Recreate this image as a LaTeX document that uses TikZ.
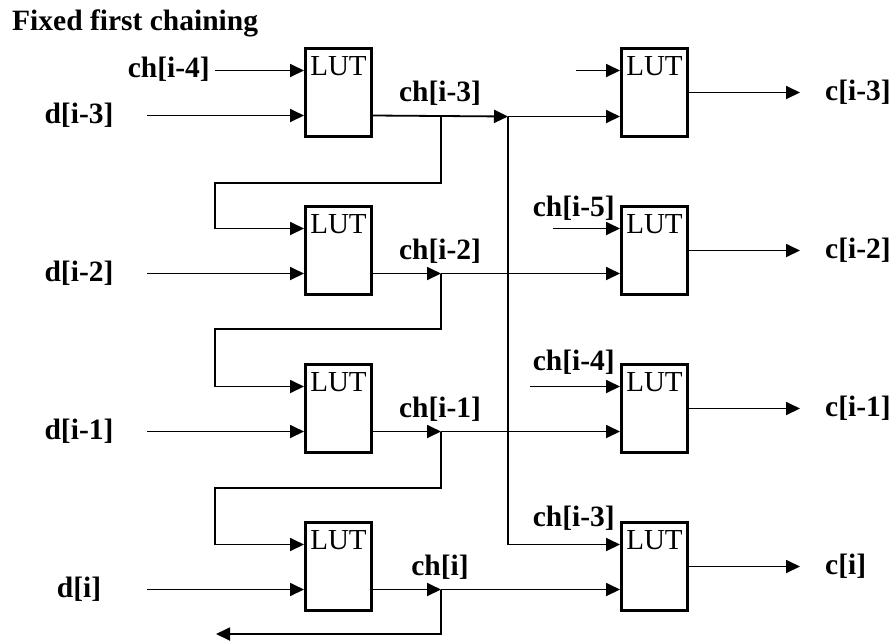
\documentclass[tikz,border=0pt]{standalone}
\usepackage{fontspec}
\setmainfont{Liberation Serif}
\usetikzlibrary{arrows.meta}
\begin{document}
\begin{tikzpicture}[x=1pt,y=-1pt,
  lut/.style={draw,line width=3pt,minimum width=66pt,minimum height=88pt,inner sep=0pt},
  wire/.style={line width=1.8pt},
  arr/.style={wire,-{Triangle[length=14pt,width=13pt]}},
  lbl/.style={font=\fontsize{29.5}{30}\selectfont\bfseries,inner sep=0pt},
  luttxt/.style={font=\fontsize{29}{30}\selectfont,inner sep=0pt,anchor=north}]
\useasboundingbox (0,0) rectangle (894,641);
\node[lbl,anchor=base west] (title) at (12,30) {Fixed first chaining};

% LUT boxes, data inputs, outputs
\foreach \k/\t/\dl/\chl/\cl in {1/47/d[i-3]/ch[i-3]/c[i-3],2/205/d[i-2]/ch[i-2]/c[i-2],3/363/d[i-1]/ch[i-1]/c[i-1],4/521/d[i]/ch[i]/c[i]}{
  \node[lut] (L\k) at (338.5,\t+45.5) {};
  \node[lut] (R\k) at (654.5,\t+45.5) {};
  \node[luttxt] (Lt\k) at ([yshift=-9.5pt]L\k.north) {LUT};
  \node[luttxt] (Rt\k) at ([yshift=-9.5pt]R\k.north) {LUT};
  \node[lbl] (d\k) at (79,\t+68) {\dl};
  \node[lbl] (ch\k) at (440,\t+46) {\chl};
  \node[lbl,anchor=west] (c\k) at (825,\t+45) {\cl};
  \coordinate (din\k) at (147,\t+68.5);
  \coordinate (j\k) at (441,\t+68.5);
  \coordinate (cout\k) at (800,\t+45.5);
  \draw[arr] (din\k) -- (din\k -| L\k.west);
  \draw[arr] (R\k.east) -- (cout\k);
}

% top-input labels
\node[lbl,anchor=east] (chA) at (210,69) {ch[i-4]};
\node[lbl,anchor=east] (chB) at (615,208) {ch[i-5]};
\node[lbl,anchor=east] (chC) at (615,362) {ch[i-4]};
\node[lbl,anchor=east] (chD) at (615,518) {ch[i-3]};

% top inputs
\coordinate (tA) at (215,70.5);
\coordinate (tR1) at (576,70.5);
\coordinate (tR2) at (553,228.5);
\coordinate (tR3) at (530,386.5);
\draw[arr] (tA) -- (tA -| L1.west);
\draw[arr] (tR1) -- (tR1 -| R1.west);
\draw[arr] (tR2) -- (tR2 -| R2.west);
\draw[arr] (tR3) -- (tR3 -| R3.west);

% row 1 output: arrow to the distribution line
\coordinate (J) at (508,116.5);
\draw[arr] (din1 -| L1.east) -- (J);
\draw[arr] (J) -- (J -| R1.west);
\draw[arr] (J) |- (R4.west |- 0,544.5);

% rows 2-4 outputs
\foreach \k in {2,3,4}{
  \draw[arr] (din\k -| L\k.east) -- (j\k);
  \draw[arr] (j\k) -- (j\k -| R\k.west);
}

% feedback chain
\draw[arr] (j1) -- (441,183) -- (215,183) -- (215,228.5) -- (L2.west |- 0,228.5);
\draw[arr] (j2) -- (441,329) -- (215,329) -- (215,386.5) -- (L3.west |- 0,386.5);
\draw[arr] (j3) -- (441,488) -- (215,488) -- (215,544.5) -- (L4.west |- 0,544.5);
\coordinate (fout) at (216,634);
\draw[arr] (j4) -- (441,634) -- (fout);
\end{tikzpicture}
\end{document}
